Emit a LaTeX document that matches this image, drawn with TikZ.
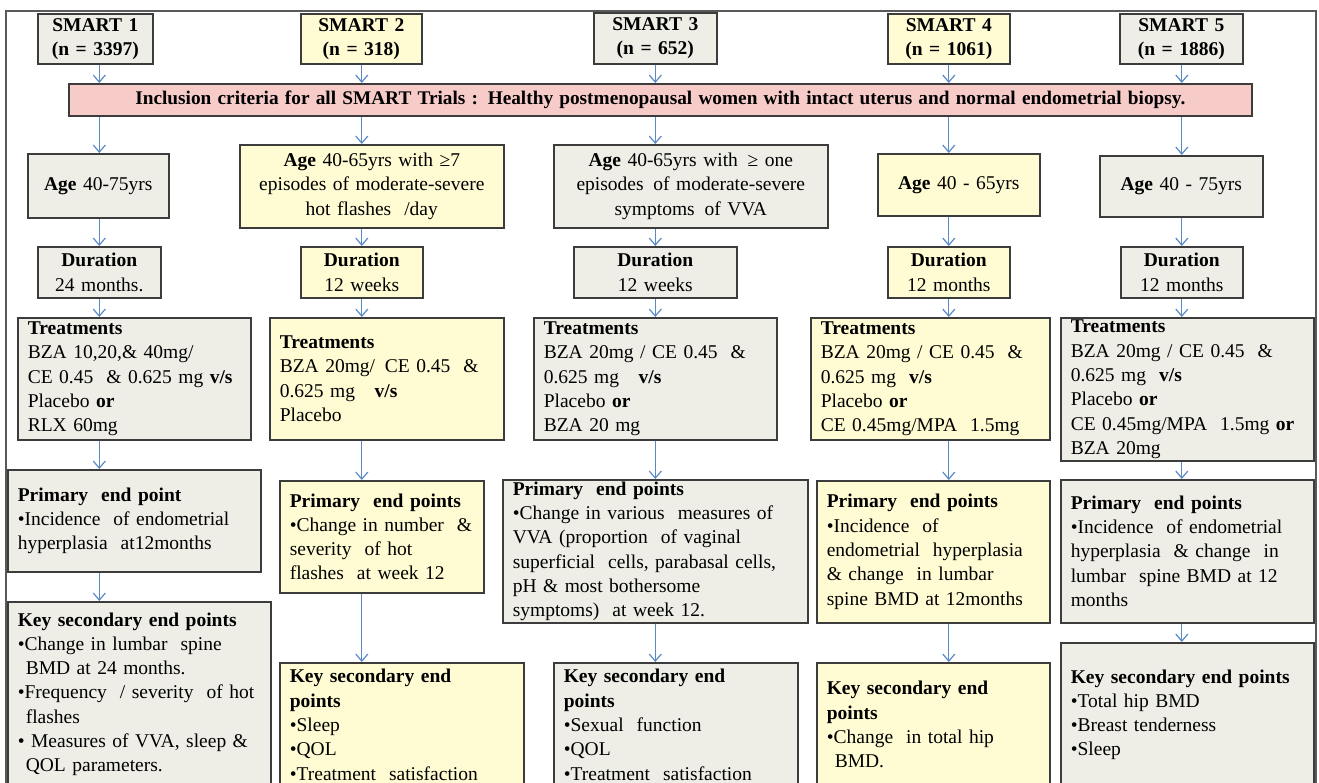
\documentclass[tikz,border=0pt]{standalone}
\usepackage{fontspec}
\setmainfont{Liberation Serif}
\usetikzlibrary{arrows.meta}
\definecolor{cellgrey}{HTML}{EEEEE7}
\definecolor{cellyellow}{HTML}{FFFCD3}
\definecolor{bannerpink}{HTML}{F6CBC8}
\definecolor{flowblue}{HTML}{5A8AC6}
\definecolor{cellline}{HTML}{3C3C3C}
\tikzset {
    cell/.style = {
        draw = cellline, line width = 1.6pt, anchor = north west,
        inner xsep = 10pt, inner ysep = 0pt, text = black,
        font = \fontsize{19.5}{24.3}\selectfont
    },
    grey cell/.style = {cell, fill = cellgrey},
    yellow cell/.style = {cell, fill = cellyellow},
    %
    boxsize/.code 2 args = {
        \pgfmathsetmacro\cellw{#1 - 20}
        \edef\cellnext{\noexpand\tikzset{minimum width = #1pt,
            minimum height = #2pt, text width = \cellw pt}}
        \cellnext
    },
    flow/.style = {
        draw = flowblue, line width = 1.2pt,
        -{Straight Barb[length = 7pt, width = 12pt]}
    },
    frame/.style = {draw = black!65, line width = 1.2pt}
}

\begin{document}
\begin{tikzpicture}[x = 1pt, y = -1pt]
    \useasboundingbox (0, 0) rectangle (1319, 783);
    \clip (0, 0) rectangle (1319, 783);
    \fill [white] (0, 0) rectangle (1319, 783);
    \draw [frame] (6, 11) rectangle (1316, 830);
    % trials
    \node (s1) [grey cell, boxsize = {115}{50}, align = center] at (37, 13)
        {\textbf{SMART 1}\\\textbf{(n = 3397)}};
    \node (s2) [yellow cell, boxsize = {121}{50}, align = center] at (300, 13)
        {\textbf{SMART 2}\\\textbf{(n = 318)}};
    \node (s3) [grey cell, boxsize = {123}{51}, align = center] at (593, 12)
        {\textbf{SMART 3}\\\textbf{(n = 652)}};
    \node (s4) [yellow cell, boxsize = {122}{50}, align = center] at (887, 13)
        {\textbf{SMART 4}\\\textbf{(n = 1061)}};
    \node (s5) [grey cell, boxsize = {123}{50}, align = center] at (1119, 13)
        {\textbf{SMART 5}\\\textbf{(n = 1886)}};
    \node (incl) [cell, fill = bannerpink, boxsize = {1183}{32}, align = center,
        font = \fontsize{19.3}{22}\selectfont] at (68, 83)
        {\spaceskip = 6.2pt \textbf{Inclusion criteria for all SMART Trials : Healthy postmenopausal women with intact uterus and normal endometrial biopsy.}};
    % age
    \node (age1) [grey cell, boxsize = {141}{64}, align = center] at (27, 153)
        {\textbf{Age} 40-75yrs};
    \node (age2) [yellow cell, boxsize = {264}{83}, align = center] at (239, 144)
        {\textbf{Age} 40-65yrs with ≥7\\episodes of moderate-severe\\hot flashes \ /day};
    \node (age3) [grey cell, boxsize = {274}{83}, align = center] at (553, 144)
        {\textbf{Age} 40-65yrs with \,≥ one\\episodes \,of moderate-severe\\symptoms \,of VVA};
    \node (age4) [yellow cell, boxsize = {162}{62}, align = center] at (877, 153)
        {\textbf{Age} 40 - 65yrs};
    \node (age5) [grey cell, boxsize = {163}{61}, align = center] at (1099, 155)
        {\textbf{Age} 40 - 75yrs};
    % duration
    \node (dur1) [grey cell, boxsize = {123}{51}, align = center] at (37, 246)
        {\textbf{Duration}\\24 months.};
    \node (dur2) [yellow cell, boxsize = {122}{51}, align = center] at (300, 246)
        {\textbf{Duration}\\12 weeks};
    \node (dur3) [grey cell, boxsize = {163}{51}, align = center] at (573, 246)
        {\textbf{Duration}\\12 weeks};
    \node (dur4) [yellow cell, boxsize = {122}{51}, align = center] at (887, 246)
        {\textbf{Duration}\\12 months};
    \node (dur5) [grey cell, boxsize = {122}{51}, align = center] at (1120, 246)
        {\textbf{Duration}\\12 months};
    % treatments
    \node (trt1) [grey cell, boxsize = {233}{122}, align = left] at (17, 317)
        {\textbf{Treatments}\\BZA 10,20,\& 40mg/\\CE 0.45 \ \& 0.625 mg \textbf{v/s}\\Placebo \textbf{or}\\RLX 60mg};
    \node (trt2) [yellow cell, boxsize = {234}{122}, align = left] at (269, 317)
        {\textbf{Treatments}\\BZA 20mg/ \,CE 0.45 \ \&\\0.625 mg \ \ \textbf{v/s}\\Placebo};
    \node (trt3) [grey cell, boxsize = {243}{122}, align = left] at (533, 317)
        {\textbf{Treatments}\\BZA 20mg / CE 0.45 \ \&\\0.625 mg \ \ \textbf{v/s}\\Placebo \textbf{or}\\BZA 20 mg};
    \node (trt4) [yellow cell, boxsize = {239}{122}, align = left] at (810, 317)
        {\textbf{Treatments}\\BZA 20mg / CE 0.45 \ \&\\0.625 mg \ \textbf{v/s}\\Placebo \textbf{or}\\CE 0.45mg/MPA \ 1.5mg};
    \node (trt5) [grey cell, boxsize = {253}{143}, align = left] at (1060, 317)
        {\textbf{Treatments}\\BZA 20mg / CE 0.45 \ \&\\0.625 mg \ \textbf{v/s}\\Placebo \textbf{or}\\CE 0.45mg/MPA \ 1.5mg \textbf{or}\\BZA 20mg};
    % primary end points
    \node (prim1) [grey cell, boxsize = {253}{102}, align = left] at (7, 469)
        {\textbf{Primary \ end point}\\•Incidence \ of endometrial\\hyperplasia \ at12months};
    \node (prim2) [yellow cell, boxsize = {204}{112}, align = left] at (279, 480)
        {\textbf{Primary \ end points}\\•Change in number \ \&\\severity \ of hot\\flashes \ at week 12};
    \node (prim3) [grey cell, boxsize = {305}{143}, align = left] at (502, 479)
        {\textbf{Primary \ end points}\\•Change in various \ measures of\\VVA (proportion \ of vaginal\\superficial \ cells, parabasal cells,\\pH \& most bothersome\\symptoms) \ at week 12.};
    \node (prim4) [yellow cell, boxsize = {233}{142}, align = left] at (816, 480)
        {\textbf{Primary \ end points}\\•Incidence \ of\\endometrial \ hyperplasia\\\& change \ in lumbar\\spine BMD at 12months};
    \node (prim5) [grey cell, boxsize = {253}{143}, align = left] at (1060, 479)
        {\textbf{Primary \ end points}\\•Incidence \ of endometrial\\hyperplasia \ \& change \ in\\lumbar \ spine BMD at 12\\months};
    % key secondary end points
    \node (key1) [grey cell, boxsize = {263}{185}, align = left] at (7, 601)
        {\textbf{Key secondary end points}\\•Change in lumbar \ spine\\\hspace*{8pt}BMD at 24 months.\\•Frequency \ / severity \ of hot\\\hspace*{8pt}flashes\\• Measures of VVA, sleep \&\\\hspace*{8pt}QOL parameters.};
    \node (key2) [yellow cell, boxsize = {244}{124}, align = left] at (279, 662)
        {\textbf{Key secondary end}\\\textbf{points}\\•Sleep\\•QOL\\•Treatment \ satisfaction};
    \node (key3) [grey cell, boxsize = {244}{124}, align = left] at (553, 662)
        {\textbf{Key secondary end}\\\textbf{points}\\•Sexual \ function\\•QOL\\•Treatment \ satisfaction};
    \node (key4) [yellow cell, boxsize = {233}{124}, align = left] at (816, 662)
        {\textbf{Key secondary end}\\\textbf{points}\\•Change \ in total hip\\\hspace*{8pt}BMD.};
    \node (key5) [grey cell, boxsize = {253}{144}, align = left] at (1060, 642)
        {\textbf{Key secondary end points}\\•Total hip BMD\\•Breast tenderness\\•Sleep};
    % arrows down each trial
    \foreach \i in {1, ..., 5} {
        \draw [flow] (s\i.south -| dur\i) -- (incl.north -| dur\i);
        \draw [flow] (incl.south -| dur\i) -- (age\i.north -| dur\i);
        \draw [flow] (age\i.south -| dur\i) -- (dur\i.north);
        \draw [flow] (dur\i.south) -- (trt\i.north -| dur\i);
        \draw [flow] (trt\i.south -| dur\i) -- (prim\i.north -| dur\i);
        \draw [flow] (prim\i.south -| dur\i) -- (key\i.north -| dur\i);
    }
\end{tikzpicture}
\end{document}
